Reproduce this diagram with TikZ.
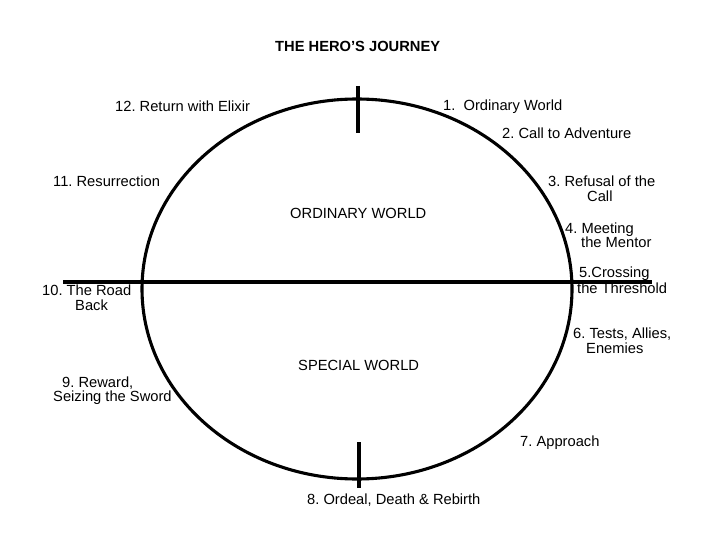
\documentclass[tikz,border=0pt]{standalone}
\usepackage{fontspec}
\setmainfont{Liberation Sans}
\frenchspacing
\begin{document}
\begin{tikzpicture}[x=1bp,y=-1bp,
  lbl/.style={anchor=base west,inner sep=0pt,font=\fontsize{14.7bp}{17bp}\selectfont},
  ttl/.style={anchor=base west,inner sep=0pt,font=\fontsize{14.7bp}{17bp}\selectfont\bfseries},
  heavy/.style={line width=3.1bp,black}]
\useasboundingbox[fill=white] (0,0) rectangle (720,540);
% circle of the journey
\draw[heavy] (357,289) ellipse [x radius=215, y radius=190];
% lines
\coordinate (hl) at (63,282);
\coordinate (hr) at (652,282);
\coordinate (tt) at (358,86);
\coordinate (tb) at (358,133);
\coordinate (bt) at (359,442);
\coordinate (bb) at (359,488);
\draw[heavy] (hl) -- (hr);
\draw[heavy] (tt) -- (tb);
\draw[heavy] (bt) -- (bb);
% texts
\node[ttl] (title) at (275,52) {THE HERO’S JOURNEY};
\node[lbl] (s12) at (115,112) {12. Return with Elixir};
\node[lbl] (s1) at (443,111) {1.\ \ Ordinary World};
\node[lbl] (s2) at (502,139) {2. Call to Adventure};
\node[lbl] (s3a) at (548,187) {3. Refusal of the};
\node[lbl] (s3b) at (587,202) {Call};
\node[lbl] (s4a) at (565,234) {4. Meeting};
\node[lbl] (s4b) at (581,248) {the Mentor};
\node[lbl] (s5a) at (579,278) {5.Crossing};
\node[lbl] (s5b) at (577,293) {the Threshold};
\node[lbl] (s6a) at (573,338) {6. Tests, Allies,};
\node[lbl] (s6b) at (586,353) {Enemies};
\node[lbl] (s7) at (520,446) {7. Approach};
\node[lbl] (s8) at (307,504) {8. Ordeal, Death \& Rebirth};
\node[lbl] (s9a) at (62,387) {9. Reward,};
\node[lbl] (s9b) at (53,401) {Seizing the Sword};
\node[lbl] (s10a) at (42,295) {10. The Road};
\node[lbl] (s10b) at (75,310) {Back};
\node[lbl] (s11) at (53,187) {11. Resurrection};
\node[lbl] (ow) at (290,219) {ORDINARY WORLD};
\node[lbl] (sw) at (298,370) {SPECIAL WORLD};
\end{tikzpicture}
\end{document}
